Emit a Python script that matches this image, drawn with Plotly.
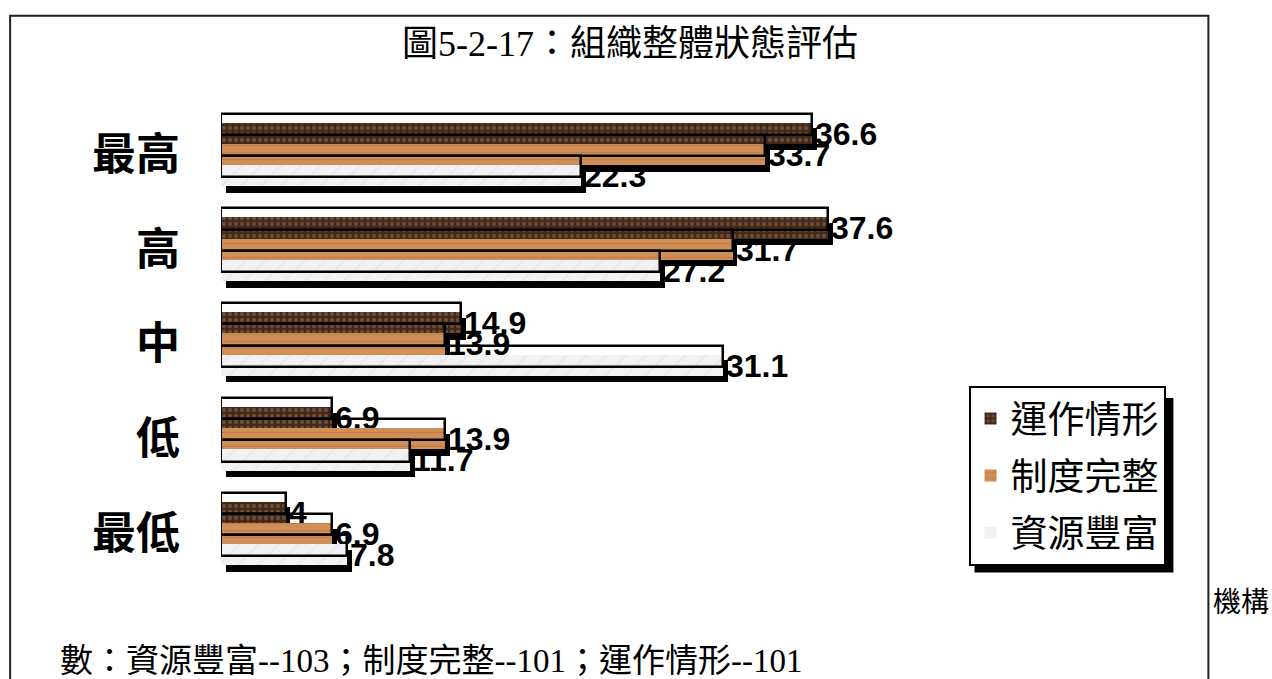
import plotly.graph_objects as go

# ---- data ----
categories = ["最高", "高", "中", "低", "最低"]
series_names = ["運作情形", "制度完整", "資源豐富"]
operation = [36.6, 37.6, 14.9, 6.9, 4]
system = [33.7, 31.7, 13.9, 13.9, 6.9]
resources = [22.3, 27.2, 31.1, 11.7, 7.8]
title_text = "圖5-2-17：組織整體狀態評估"
note_head = "機構"
note_body = "數：資源豐富--103；制度完整--101；運作情形--101"

# ---- page geometry (pixels) ----
W, H = 1272, 679
ML, MR, MT, MB = 221, 243.5, 106.5, 97.5
PW, PH = W - ML - MR, H - MT - MB


def px_x(p):
    return (p - ML) / PW


def px_y(p):
    return (H - MB - p) / PH


# ---- bar styling ----
BAR_W = 0.224
FILL_OFFSETS = [-0.336, -0.112, 0.112]
OUTLINE_SHIFT = -0.095
SHADOW_SHIFT = 0.06
SHADOW_BASE = 0.3

patterns = [
    dict(shape=".", bgcolor="#43271a", fgcolor="#94714d", size=6, solidity=0.4),
    dict(shape="-", bgcolor="#d08f57", fgcolor="#ad6d3d", size=7, solidity=0.18),
    dict(shape="/", bgcolor="#f2f2f5", fgcolor="#d2d2d8", size=14, solidity=0.08),
]

values = [operation, system, resources]
label_font = dict(family="Liberation Sans", size=32, color="black", weight="bold")

fig = go.Figure()

# drop shadows behind each bar
for name, vals, off in zip(series_names, values, FILL_OFFSETS):
    fig.add_trace(go.Bar(
        y=categories, x=vals, base=SHADOW_BASE, orientation="h",
        width=BAR_W + 0.01, offset=off + SHADOW_SHIFT,
        marker=dict(color="black", line=dict(width=0)),
        legendgroup=name, showlegend=False, hoverinfo="skip",
    ))

# textured bar faces with value labels
for name, vals, off, pat in zip(series_names, values, FILL_OFFSETS, patterns):
    fig.add_trace(go.Bar(
        y=categories, x=vals, orientation="h", name=name,
        width=BAR_W, offset=off,
        marker=dict(color=pat["bgcolor"], pattern=pat, line=dict(width=0)),
        text=[f"{v:g}" for v in vals], textposition="outside",
        textfont=label_font, constraintext="none", cliponaxis=False,
        legendgroup=name,
    ))

# raised outline frames
for name, vals, off in zip(series_names, values, FILL_OFFSETS):
    fig.add_trace(go.Bar(
        y=categories, x=vals, orientation="h",
        width=BAR_W, offset=off + OUTLINE_SHIFT,
        marker=dict(color="rgba(0,0,0,0)", line=dict(color="black", width=2.5)),
        legendgroup=name, showlegend=False, hoverinfo="skip",
    ))

cjk_serif = "Liberation Serif, Noto Sans CJK TC"

fig.update_layout(
    width=W, height=H, autosize=False,
    margin=dict(l=ML, r=MR, t=MT, b=MB, pad=0),
    paper_bgcolor="white", plot_bgcolor="white",
    barmode="overlay", bargap=0,
    showlegend=True,
    legend=dict(
        x=px_x(969), y=px_y(386), xanchor="left", yanchor="top",
        bgcolor="white", bordercolor="black", borderwidth=2,
        font=dict(family="Noto Sans CJK TC", size=37, color="black"),
        tracegroupgap=6, traceorder="grouped",
    ),
    xaxis=dict(range=[0, 50], visible=False, showgrid=False, zeroline=False),
    yaxis=dict(
        type="category", categoryorder="array", categoryarray=categories,
        range=[4.5, -0.5], showgrid=False, zeroline=False, showline=False,
        ticks="", ticklabelstandoff=40,
        tickfont=dict(family="Noto Sans CJK TC", size=44, color="black", weight="bold"),
    ),
    annotations=[
        dict(text=title_text, x=px_x(630), y=px_y(43), xref="paper", yref="paper",
             xanchor="center", yanchor="middle", showarrow=False,
             font=dict(family=cjk_serif, size=36, color="black")),
        dict(text=note_head, x=px_x(1212), y=px_y(603), xref="paper", yref="paper",
             xanchor="left", yanchor="middle", showarrow=False,
             font=dict(family=cjk_serif, size=28, color="black")),
        dict(text=note_body, x=px_x(58), y=px_y(662), xref="paper", yref="paper",
             xanchor="left", yanchor="middle", showarrow=False,
             font=dict(family=cjk_serif, size=33, color="black")),
    ],
    shapes=[
        # outer frame (open at the bottom edge of the page)
        dict(type="path", xref="paper", yref="paper",
             path=(f"M {px_x(10)} {px_y(700)} L {px_x(10)} {px_y(15)} "
                   f"L {px_x(1209)} {px_y(15)} L {px_x(1209)} {px_y(700)}"),
             line=dict(color="#222", width=2), layer="below"),
        # legend drop shadow
        dict(type="rect", xref="paper", yref="paper",
             x0=px_x(975), x1=px_x(1174), y0=px_y(573), y1=px_y(398),
             fillcolor="black", line=dict(width=0), layer="above"),
    ],
)

fig.write_html("out.html")
